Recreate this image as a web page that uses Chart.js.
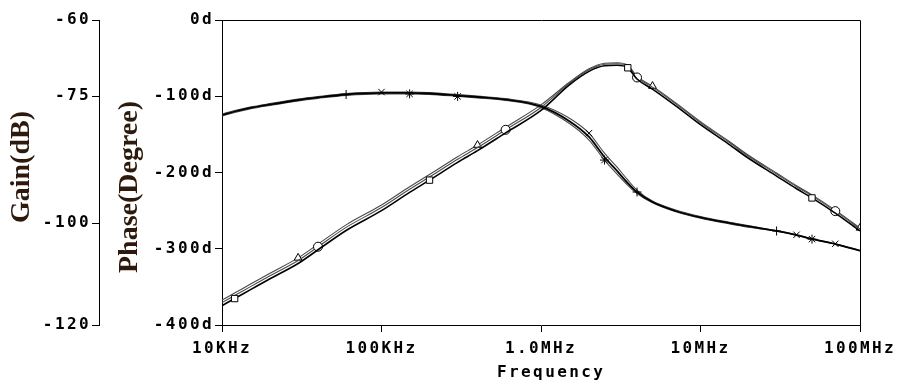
<!DOCTYPE html>
<html><head><meta charset="utf-8">
<script src="https://cdn.jsdelivr.net/npm/chart.js@4.4.1/dist/chart.umd.min.js"></script>
<style>html,body{margin:0;padding:0;background:#fff;}canvas{display:block;}</style>
</head><body>
<canvas id="c" width="899" height="383"></canvas>
<script>
// ---- data ----
const freqHz = [1e4,1.2e4,1.5e4,2e4,3e4,4e4,6e4,1e5,1.5e5,2e5,3e5,4e5,6e5,1e6,1.5e6,2e6,2.5e6,3e6,3.5e6,4e6,5e6,7e6,1e7,1.5e7,2e7,3e7,4e7,5e7,7e7,1e8];

const gainTrace1 = [-116.2,-114.8,-113.1,-110.9,-107.9,-105.2,-101.4,-97.5,-93.9,-91.5,-88.0,-85.7,-82.2,-77.8,-72.8,-70.1,-69.0,-68.9,-69.4,-71.6,-73.6,-76.9,-80.6,-84.4,-87.2,-90.7,-93.2,-95.0,-98.0,-101.5];
const gainTrace2 = [-115.6,-114.2,-112.5,-110.3,-107.3,-104.6,-100.8,-96.9,-93.3,-90.9,-87.4,-85.1,-81.6,-77.2,-72.5,-69.8,-68.7,-68.6,-69.1,-71.3,-73.2,-76.5,-80.2,-84.0,-86.8,-90.3,-92.8,-94.6,-97.6,-101.1];
const gainTrace3 = [-115.1,-113.7,-112.0,-109.8,-106.8,-104.1,-100.3,-96.4,-92.8,-90.4,-86.9,-84.6,-81.1,-76.7,-72.3,-69.6,-68.5,-68.4,-68.9,-71.1,-73.0,-76.3,-80.0,-83.8,-86.6,-90.1,-92.6,-94.4,-97.4,-100.9];

const phaseTrace1 = [-124.6,-120.0,-115.4,-110.8,-104.9,-101.6,-97.7,-95.7,-95.7,-96.4,-99.0,-101.0,-104.3,-113.4,-132.5,-153.4,-179.7,-198.0,-213.8,-225.6,-238.7,-250.5,-259.0,-266.2,-270.8,-276.7,-282.0,-287.2,-293.8,-302.6];
const phaseTrace2 = [-123.4,-118.8,-114.2,-109.6,-103.7,-100.4,-96.5,-94.5,-94.5,-95.2,-97.8,-99.8,-103.1,-111.4,-128.5,-148.4,-174.7,-193.0,-209.8,-223.1,-237.5,-249.3,-257.8,-265.0,-269.6,-276.4,-281.7,-286.9,-293.5,-302.3];
const phaseTrace3 = [-125.8,-121.2,-116.6,-112.0,-106.1,-102.8,-98.9,-96.9,-96.9,-97.6,-100.2,-102.2,-105.5,-114.9,-135.5,-157.4,-183.7,-202.0,-216.8,-227.6,-239.7,-251.5,-260.0,-267.2,-271.8,-276.9,-282.2,-287.4,-294.0,-302.8];

const xTickValues = [1e4,1e5,1e6,1e7,1e8];
const xTickLabels = ['10KHz','100KHz','1.0MHz','10MHz','100MHz'];
const gainTickValues = [-120,-100,-75,-60];
const gainTickLabels = ['-120','-100','-75','-60'];
const phaseTickValues = [-400,-300,-200,-100,0];
const phaseTickLabels = ['-400d','-300d','-200d','-100d','0d'];

const gainTitle = 'Gain(dB)';
const phaseTitle = 'Phase(Degree)';
const xTitle = 'Frequency';

// marker positions (data indices) per trace
const gainMarks1 = [1,9,18,27], gainMarks2 = [5,12,19,28], gainMarks3 = [4,11,20,29];
const phaseMarks1 = [6,19,25], phaseMarks2 = [7,15,26,28], phaseMarks3 = [8,10,16,27];

// ---- chart ----
const tickFont = {family:'"DejaVu Sans Mono", monospace', size:16, weight:'bold'};
const titleColor = '#2d1a0c';

const toPts = vals => freqHz.map((f,i)=>({x:f, y:vals[i]}));
function trace(vals, axis, color, width, style, marks){
  return {
    data: toPts(vals), yAxisID: axis, borderColor: color, borderWidth: width,
    pointStyle: style,
    pointRadius: c => marks.includes(c.dataIndex) ? 4.5 : 0,
    pointHoverRadius: 0,
    pointBorderColor:'#000', pointBackgroundColor:'#fff', pointBorderWidth:1,
    cubicInterpolationMode:'monotone', fill:false
  };
}

const decor = {
  id:'decor',
  beforeDraw(chart){ chart.ctx.letterSpacing = '2.4px'; },
  afterDraw(chart){
    const {ctx, chartArea:a} = chart;
    ctx.save();
    ctx.letterSpacing = '0px';
    ctx.strokeStyle = '#000'; ctx.lineWidth = 1;
    ctx.beginPath();
    ctx.moveTo(Math.round(a.left)+0.5, Math.round(a.top)+0.5);
    ctx.lineTo(Math.round(a.right)+0.5, Math.round(a.top)+0.5);
    ctx.lineTo(Math.round(a.right)+0.5, Math.round(a.bottom)+0.5);
    ctx.stroke();
    ctx.fillStyle = titleColor;
    ctx.font = 'bold 28px "Liberation Serif", serif';
    ctx.textAlign = 'center'; ctx.textBaseline = 'middle';
    ctx.save(); ctx.translate(22,167); ctx.rotate(-Math.PI/2); ctx.fillText(gainTitle,0,0); ctx.restore();
    ctx.save(); ctx.translate(130,187); ctx.rotate(-Math.PI/2); ctx.fillText(phaseTitle,0,0); ctx.restore();
    ctx.letterSpacing = '2.4px';
    ctx.font = 'bold 16px "DejaVu Sans Mono", monospace';
    ctx.fillStyle = '#000'; ctx.textAlign = 'left'; ctx.textBaseline = 'alphabetic';
    ctx.fillText(xTitle, 497, 377);
    ctx.restore();
    ctx.letterSpacing = '0px';
  }
};

const axisCommon = {
  grid:{drawOnChartArea:false, drawTicks:true, tickLength:7, tickColor:'#000', tickWidth:1},
  border:{display:true, color:'#000', width:1}
};

new Chart(document.getElementById('c'), {
  type:'line',
  data:{datasets:[
    trace(gainTrace1,'yGain','#000',1.6,'rect',gainMarks1),
    trace(phaseTrace1,'yPhase','#000',1.8,'cross',phaseMarks1),
    trace(gainTrace2,'yGain','#4a4a4a',1.1,'circle',gainMarks2),
    trace(gainTrace3,'yGain','#4a4a4a',1.1,'triangle',gainMarks3),
    trace(phaseTrace2,'yPhase','#4a4a4a',1.1,'crossRot',phaseMarks2),
    trace(phaseTrace3,'yPhase','#4a4a4a',1.1,'star',phaseMarks3)
  ]},
  options:{
    responsive:false, animation:false, devicePixelRatio:1,
    layout:{padding:{top:20,right:39,left:0,bottom:0}},
    plugins:{legend:{display:false}, tooltip:{enabled:false}},
    events:[],
    scales:{
      x:{type:'logarithmic', position:'bottom', min:1e4, max:1e8,
        afterBuildTicks: s => { s.ticks = xTickValues.map(v=>({value:v})); },
        afterFit: s => { s.height = 58; },
        ticks:{autoSkip:false, maxRotation:0, minRotation:0, padding:7, color:'#000', font:tickFont,
          callback:(v,i)=>xTickLabels[i]},
        ...axisCommon},
      yGain:{type:'linear', position:'left', weight:1, min:-120, max:-60,
        afterBuildTicks: s => { s.ticks = gainTickValues.map(v=>({value:v})); },
        afterFit: s => { s.width = 99; },
        ticks:{padding:1, color:'#000', font:tickFont, callback:(v,i)=>gainTickLabels[i]},
        ...axisCommon},
      yPhase:{type:'linear', position:'left', weight:0, min:-400, max:0,
        afterBuildTicks: s => { s.ticks = phaseTickValues.map(v=>({value:v})); },
        afterFit: s => { s.width = 123; },
        ticks:{padding:1, color:'#000', font:tickFont, callback:(v,i)=>phaseTickLabels[i]},
        ...axisCommon}
    }
  },
  plugins:[decor]
});
</script>
</body></html>
